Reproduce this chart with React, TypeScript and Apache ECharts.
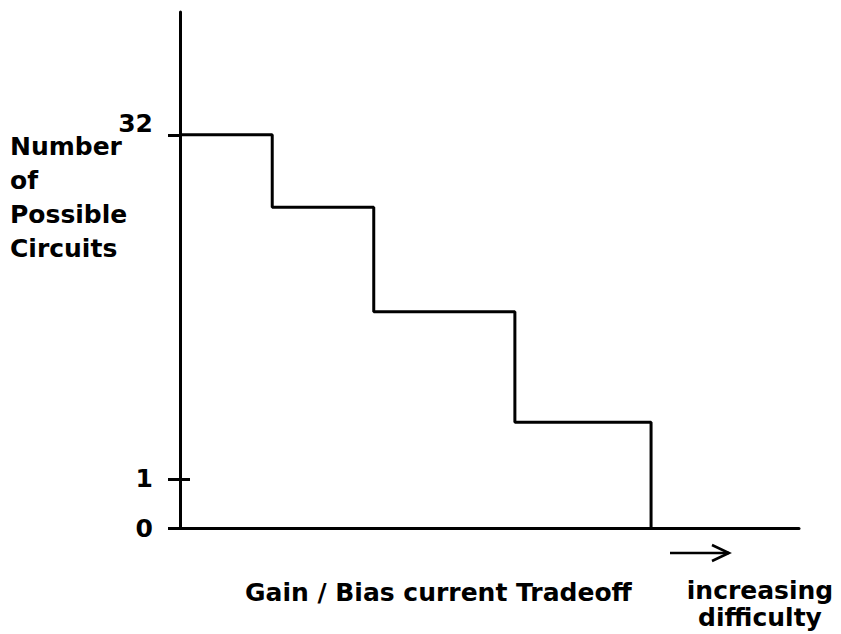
import React, { useEffect, useRef } from "react";
import * as echarts from "echarts";

// x positions of the step edges (axis units 0..100) and the level of each step (axis units 0..42)
const stepX = [0, 14.9, 31.3, 54.1, 76.1];
const stepY = [32, 26.1, 17.6, 8.6, 0];
// y ticks: position on the axis and the printed label
const yTickValues = [0, 4, 32];
const yTickLabels = ["0", "1", "32"];
const yLabelLines = ["Number", "of", "Possible", "Circuits"];
const xLabel = "Gain / Bias current Tradeoff";
const noteLines = ["increasing", "difficulty"];

const FONT = "'DejaVu Sans', sans-serif";

export default function App() {
  const ref = useRef<HTMLDivElement>(null);
  useEffect(() => {
    if (!ref.current) return;
    const chart = echarts.init(ref.current, undefined, { renderer: "svg" });
    const data = stepX.map((x, i) => [x, stepY[i]]);
    const yAxisBase = {
      type: "value",
      min: 0,
      max: 42,
      splitLine: { show: false },
    };
    chart.setOption({
      animation: false,
      backgroundColor: "#ffffff",
      grid: { left: 180, right: 42, top: 12, bottom: 106 },
      xAxis: {
        type: "value",
        min: 0,
        max: 100,
        axisLine: { show: true, lineStyle: { color: "#000", width: 3 } },
        axisTick: { show: false },
        axisLabel: { show: false },
        splitLine: { show: false },
      },
      yAxis: [
        {
          ...yAxisBase,
          axisLine: { show: true, lineStyle: { color: "#000", width: 3 } },
          axisTick: {
            show: true,
            customValues: yTickValues,
            length: 12,
            lineStyle: { color: "#000", width: 3 },
          },
          axisLabel: {
            show: true,
            customValues: yTickValues,
            margin: 27,
            color: "#000",
            fontFamily: FONT,
            fontWeight: "bold",
            fontSize: 25,
            formatter: (v: number) => {
              const i = yTickValues.indexOf(v);
              const t = i >= 0 ? yTickLabels[i] : "";
              return v === 32 ? "{up|" + t + "}" : t;
            },
            rich: {
              up: {
                fontFamily: FONT,
                fontWeight: "bold",
                fontSize: 25,
                color: "#000",
                padding: [0, 0, 22, 0],
              },
            },
          },
        },
        {
          ...yAxisBase,
          position: "left",
          axisLine: { show: false },
          axisTick: {
            show: true,
            inside: true,
            customValues: [yTickValues[1]],
            length: 10,
            lineStyle: { color: "#000", width: 3 },
          },
          axisLabel: { show: false },
        },
      ],
      series: [
        {
          type: "line",
          step: "end",
          data,
          symbol: "none",
          lineStyle: { color: "#000", width: 3 },
        },
      ],
      graphic: [
        {
          type: "text",
          left: 10,
          top: 129,
          style: {
            text: yLabelLines.join("\n"),
            fontFamily: FONT,
            fontWeight: "bold",
            fontSize: 25,
            lineHeight: 34,
            fill: "#000",
          },
        },
        {
          type: "text",
          x: 245,
          y: 592,
          style: {
            text: xLabel,
            fontFamily: FONT,
            fontWeight: "bold",
            fontSize: 25,
            fill: "#000",
            align: "left",
            verticalAlign: "middle",
          },
        },
        {
          type: "text",
          x: 760,
          y: 590,
          style: {
            text: noteLines[0],
            fontFamily: FONT,
            fontWeight: "bold",
            fontSize: 25,
            fill: "#000",
            align: "center",
            verticalAlign: "middle",
          },
        },
        {
          type: "text",
          x: 760,
          y: 617,
          style: {
            text: noteLines[1],
            fontFamily: FONT,
            fontWeight: "bold",
            fontSize: 25,
            fill: "#000",
            align: "center",
            verticalAlign: "middle",
          },
        },
        {
          type: "polyline",
          shape: { points: [[670, 553], [729, 553]] },
          style: { stroke: "#000", lineWidth: 2.5, fill: null },
        },
        {
          type: "polyline",
          shape: { points: [[712, 545], [729, 553], [712, 561]] },
          style: { stroke: "#000", lineWidth: 2.5, fill: null },
        },
      ],
    });
    return () => chart.dispose();
  }, []);
  return (
    <div
      ref={ref}
      style={{ position: "fixed", left: 0, top: 0, width: 841, height: 634 }}
    />
  );
}
